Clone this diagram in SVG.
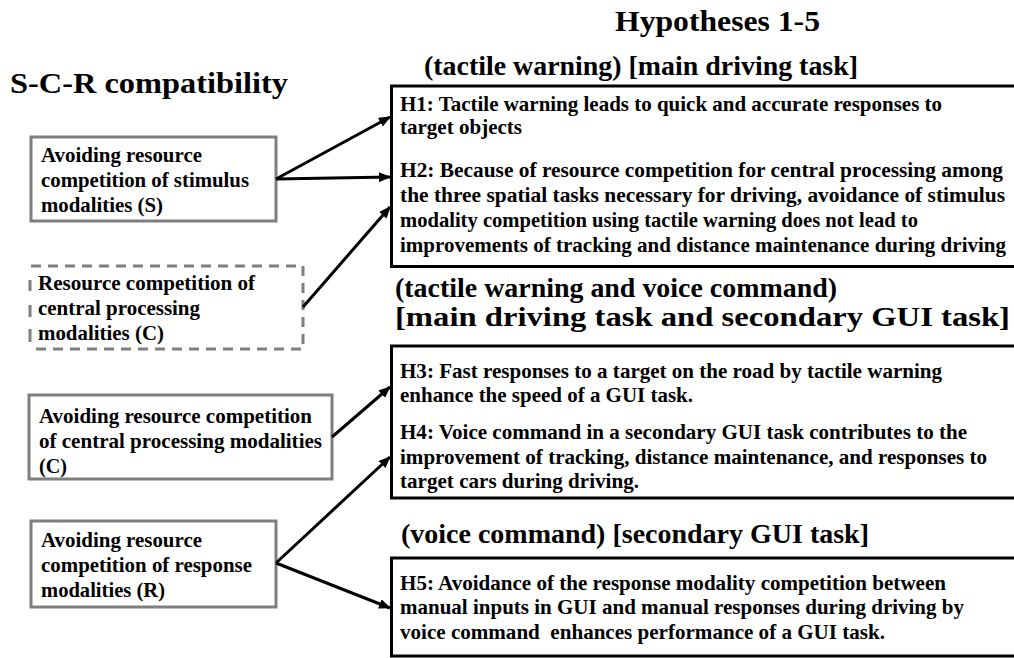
<svg xmlns="http://www.w3.org/2000/svg" width="1014" height="658" viewBox="0 0 1014 658">
  <style>
    text { font-family: "Liberation Serif", "Times New Roman", serif; font-weight: bold; fill: #000; }
    .title { font-size: 30px; }
    .head { font-size: 26.5px; }
    .body { font-size: 21px; }
    .src { fill: #fff; stroke: #7f7f7f; stroke-width: 3; }
    .dash { fill: none; stroke: #7f7f7f; stroke-width: 3; stroke-dasharray: 10 7; }
    .hyp { fill: #fff; stroke: #000; stroke-width: 3; }
    .conn line { stroke: #000; stroke-width: 3; marker-end: url(#arrow); }
  </style>
  <defs>
    <marker id="arrow" markerUnits="userSpaceOnUse" markerWidth="12" markerHeight="10" refX="11" refY="5" orient="auto">
      <path d="M0,0 L12,5 L0,10 Z" fill="#000"/>
    </marker>
  </defs>
  <rect width="1014" height="658" fill="#fff"/>

  <!-- titles -->
  <text class="title" x="615" y="31" textLength="205" lengthAdjust="spacingAndGlyphs">Hypotheses 1-5</text>
  <text class="title" x="10" y="93" textLength="278" lengthAdjust="spacingAndGlyphs">S-C-R compatibility</text>

  <!-- section headings -->
  <text class="head" x="424" y="75" textLength="434" lengthAdjust="spacingAndGlyphs">(tactile warning) [main driving task]</text>
  <text class="head" x="395" y="297" textLength="442" lengthAdjust="spacingAndGlyphs">(tactile warning and voice command)</text>
  <text class="head" x="395" y="326" textLength="615" lengthAdjust="spacingAndGlyphs">[main driving task and secondary GUI task]</text>
  <text class="head" x="401" y="543" textLength="468" lengthAdjust="spacingAndGlyphs">(voice command) [secondary GUI task]</text>

  <!-- source nodes -->
  <g id="node-stimulus">
    <rect class="src" x="31" y="137" width="245" height="84"/>
    <text class="body" x="41" y="162" textLength="161" lengthAdjust="spacingAndGlyphs">Avoiding resource</text>
    <text class="body" x="41" y="187" textLength="208" lengthAdjust="spacingAndGlyphs">competition of stimulus</text>
    <text class="body" x="41" y="212" textLength="122" lengthAdjust="spacingAndGlyphs">modalities (S)</text>
  </g>

  <g id="node-central-competition">
    <path class="dash" d="M31,266 H303 V349 H31"/>
    <path d="M30,280 V291 M30,305 V317 M30,329 V342" stroke="#7f7f7f" stroke-width="3"/>
    <text class="body" x="38" y="290" textLength="217" lengthAdjust="spacingAndGlyphs">Resource competition of</text>
    <text class="body" x="38" y="315" textLength="162" lengthAdjust="spacingAndGlyphs">central processing</text>
    <text class="body" x="38" y="340" textLength="126" lengthAdjust="spacingAndGlyphs">modalities (C)</text>
  </g>

  <g id="node-central">
    <rect class="src" x="29" y="395" width="303" height="84"/>
    <text class="body" x="39" y="423" textLength="273" lengthAdjust="spacingAndGlyphs">Avoiding resource competition</text>
    <text class="body" x="39" y="448" textLength="283" lengthAdjust="spacingAndGlyphs">of central processing modalities</text>
    <text class="body" x="39" y="473" textLength="28" lengthAdjust="spacingAndGlyphs">(C)</text>
  </g>

  <g id="node-response">
    <rect class="src" x="31" y="521" width="245" height="86"/>
    <text class="body" x="41" y="547" textLength="161" lengthAdjust="spacingAndGlyphs">Avoiding resource</text>
    <text class="body" x="41" y="572" textLength="211" lengthAdjust="spacingAndGlyphs">competition of response</text>
    <text class="body" x="41" y="597" textLength="124" lengthAdjust="spacingAndGlyphs">modalities (R)</text>
  </g>

  <!-- hypothesis nodes (open to the right edge) -->
  <g id="node-h1-h2">
    <rect class="hyp" x="391.5" y="86" width="640" height="180.5"/>
    <text class="body" x="400" y="110.5" textLength="542" lengthAdjust="spacingAndGlyphs">H1: Tactile warning leads to quick and accurate responses to</text>
    <text class="body" x="400" y="134" textLength="122" lengthAdjust="spacingAndGlyphs">target objects</text>
    <text class="body" x="400" y="176.5" textLength="603" lengthAdjust="spacingAndGlyphs">H2: Because of resource competition for central processing among</text>
    <text class="body" x="400" y="201.5" textLength="605" lengthAdjust="spacingAndGlyphs">the three spatial tasks necessary for driving, avoidance of stimulus</text>
    <text class="body" x="400" y="226.5" textLength="518" lengthAdjust="spacingAndGlyphs">modality competition using tactile warning does not lead to</text>
    <text class="body" x="400" y="251.5" textLength="606" lengthAdjust="spacingAndGlyphs">improvements of tracking and distance maintenance during driving</text>
  </g>

  <g id="node-h3-h4">
    <rect class="hyp" x="391.5" y="346" width="640" height="152"/>
    <text class="body" x="400" y="377.5" textLength="542" lengthAdjust="spacingAndGlyphs">H3: Fast responses to a target on the road by tactile warning</text>
    <text class="body" x="400" y="402" textLength="293" lengthAdjust="spacingAndGlyphs">enhance the speed of a GUI task.</text>
    <text class="body" x="400" y="439" textLength="567" lengthAdjust="spacingAndGlyphs">H4: Voice command in a secondary GUI task contributes to the</text>
    <text class="body" x="400" y="463.5" textLength="587" lengthAdjust="spacingAndGlyphs">improvement of tracking, distance maintenance, and responses to</text>
    <text class="body" x="400" y="488" textLength="239" lengthAdjust="spacingAndGlyphs">target cars during driving.</text>
  </g>

  <g id="node-h5">
    <rect class="hyp" x="391.5" y="558" width="640" height="98"/>
    <text class="body" x="400" y="590" textLength="546" lengthAdjust="spacingAndGlyphs">H5: Avoidance of the response modality competition between</text>
    <text class="body" x="400" y="614" textLength="564" lengthAdjust="spacingAndGlyphs">manual inputs in GUI and manual responses during driving by</text>
    <text class="body" x="400" y="639" textLength="485" lengthAdjust="spacingAndGlyphs" xml:space="preserve">voice command  enhances performance of a GUI task.</text>
  </g>

  <!-- connectors -->
  <g id="connectors" class="conn">
    <line x1="276" y1="179" x2="390" y2="117"/>
    <line x1="276" y1="179" x2="390" y2="177"/>
    <line x1="303" y1="307" x2="390" y2="207"/>
    <line x1="332" y1="437" x2="390" y2="387"/>
    <line x1="276" y1="563" x2="390" y2="457"/>
    <line x1="276" y1="563" x2="390" y2="608"/>
  </g>
</svg>
